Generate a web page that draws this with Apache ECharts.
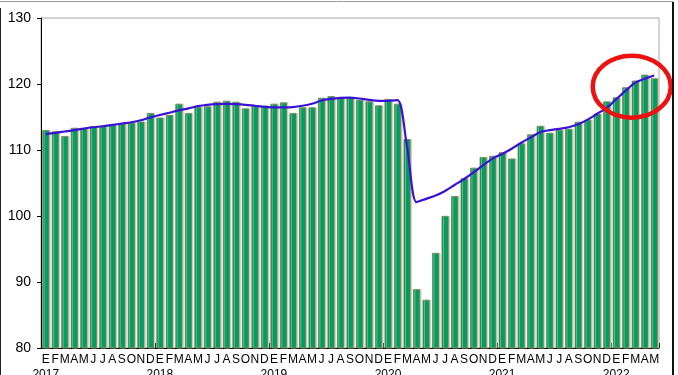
<!DOCTYPE html>
<html>
<head>
<meta charset="utf-8">
<style>
  html, body { margin: 0; padding: 0; background: #fff; }
  #chart { width: 678px; height: 375px; }
</style>
<script src="https://cdn.jsdelivr.net/npm/echarts@6/dist/echarts.min.js"></script>
</head>
<body>
<div id="chart"></div>
<script>
const monthLetters = ['E','F','M','A','M','J','J','A','S','O','N','D'];
const years = ['2017','2018','2019','2020','2021','2022'];
const monthsIn2022 = 5;

const values2017 = [113.0, 112.8, 112.1, 113.35, 113.3, 113.6, 113.65, 113.85, 114.0, 114.15, 114.3, 115.6];
const values2018 = [114.9, 115.3, 117.0, 115.6, 116.5, 116.6, 117.3, 117.45, 117.3, 116.3, 116.7, 116.7];
const values2019 = [117.0, 117.2, 115.6, 116.45, 116.45, 117.9, 118.15, 117.9, 118.0, 117.6, 117.35, 116.75];
const values2020 = [117.7, 117.0, 111.65, 88.9, 87.3, 94.4, 100.0, 103.0, 105.7, 107.3, 108.9, 109.1];
const values2021 = [109.65, 108.7, 111.0, 112.35, 113.65, 112.6, 113.0, 113.2, 114.26, 114.57, 115.5, 117.35];
const values2022 = [117.96, 119.5, 120.5, 121.4, 120.85];

const trend2017 = [112.4, 112.6, 112.8, 113.0, 113.25, 113.45, 113.6, 113.8, 114.0, 114.2, 114.5, 114.95];
const trend2018 = [115.3, 115.65, 116.0, 116.3, 116.65, 116.85, 116.95, 117.0, 116.95, 116.85, 116.7, 116.55];
const trend2019 = [116.45, 116.45, 116.5, 116.7, 117.0, 117.5, 117.75, 117.9, 117.95, 117.8, 117.6, 117.45];
const trend2020 = [117.45, 117.55, 110.5, 102.1, 102.6, 103.1, 103.8, 104.7, 105.6, 106.6, 107.7, 108.7];
const trend2021 = [109.4, 110.2, 111.1, 111.9, 112.7, 113.0, 113.2, 113.45, 113.9, 114.6, 115.5, 116.4];
const trend2022 = [117.7, 119.0, 120.2, 120.8, 121.3];

const yTicks = [80, 90, 100, 110, 120, 130];

const values = [].concat(values2017, values2018, values2019, values2020, values2021, values2022);
const trend = [].concat(trend2017, trend2018, trend2019, trend2020, trend2021, trend2022);

const categories = [];
years.forEach((y, yi) => {
  const n = (yi === years.length - 1) ? monthsIn2022 : 12;
  for (let m = 0; m < n; m++) categories.push({ m: monthLetters[m], y: y, first: m === 0 });
});
const catNames = categories.map((c, i) => c.y + '-' + i);

const chart = echarts.init(document.getElementById('chart'), null, { renderer: 'canvas' });

const option = {
  animation: false,
  backgroundColor: '#fff',
  grid: {
    left: 41, right: 19, top: 18, bottom: 27,
    containLabel: false,
    outerBoundsMode: 'none',
    show: true, borderColor: '#a8a8a8', borderWidth: 1, backgroundColor: 'transparent'
  },
  xAxis: {
    type: 'category',
    data: catNames,
    boundaryGap: true,
    axisLine: { show: true, lineStyle: { color: '#000', width: 1 } },
    axisTick: {
      show: true, inside: true, length: 5,
      interval: function (index) { return index % 12 === 0; },
      lineStyle: { color: '#000' }
    },
    axisLabel: {
      interval: 0,
      margin: 4,
      hideOverlap: false,
      fontFamily: 'Arial, "Liberation Sans", sans-serif',
      fontSize: 12,
      color: '#000',
      lineHeight: 15,
      formatter: function (val, idx) {
        const c = categories[idx];
        return c.first ? (c.m + '\n' + c.y) : c.m;
      }
    },
    splitLine: { show: false }
  },
  yAxis: {
    type: 'value',
    min: yTicks[0],
    max: yTicks[yTicks.length - 1],
    interval: 10,
    axisLine: { show: true, lineStyle: { color: '#000', width: 1 } },
    axisTick: { show: true, inside: false, length: 4, lineStyle: { color: '#000' } },
    axisLabel: {
      margin: 10,
      fontFamily: 'Arial, "Liberation Sans", sans-serif',
      fontSize: 14,
      color: '#000'
    },
    splitLine: { show: false }
  },
  series: [
    {
      type: 'bar',
      data: values,
      barCategoryGap: '27%',
      itemStyle: {
        color: '#009e62',
        borderColor: '#6d7a45',
        borderWidth: 0.7,
        shadowColor: 'rgba(200,195,170,0.8)',
        shadowOffsetX: 1.5,
        shadowOffsetY: 0,
        shadowBlur: 0
      },
      z: 2
    },
    {
      type: 'line',
      data: trend,
      smooth: 0.3,
      symbol: 'none',
      lineStyle: { color: '#3a12d6', width: 2.2 },
      z: 3
    }
  ]
};
chart.setOption(option);

// Red ellipse annotation around the latest months
const ctr = chart.convertToPixel({ gridIndex: 0 }, [catNames[61], 119.6]);
const cx = ctr[0] + 6;
chart.setOption({
  graphic: [
    { type: 'ellipse', shape: { cx: cx, cy: ctr[1], rx: 39, ry: 31 },
      style: { fill: 'none', stroke: '#ee1111', lineWidth: 4.5 }, z: 100 },
    { type: 'line', shape: { x1: 0, y1: 1.5, x2: 673, y2: 1.5 },
      style: { stroke: '#9a9a9a', lineWidth: 1 }, z: 100 },
    { type: 'line', shape: { x1: 0.5, y1: 8, x2: 0.5, y2: 375 },
      style: { stroke: '#222', lineWidth: 1 }, z: 100 },
    { type: 'line', shape: { x1: 673, y1: 2, x2: 673, y2: 375 },
      style: { stroke: '#111', lineWidth: 2 }, z: 100 }
  ]
});
</script>
</body>
</html>
